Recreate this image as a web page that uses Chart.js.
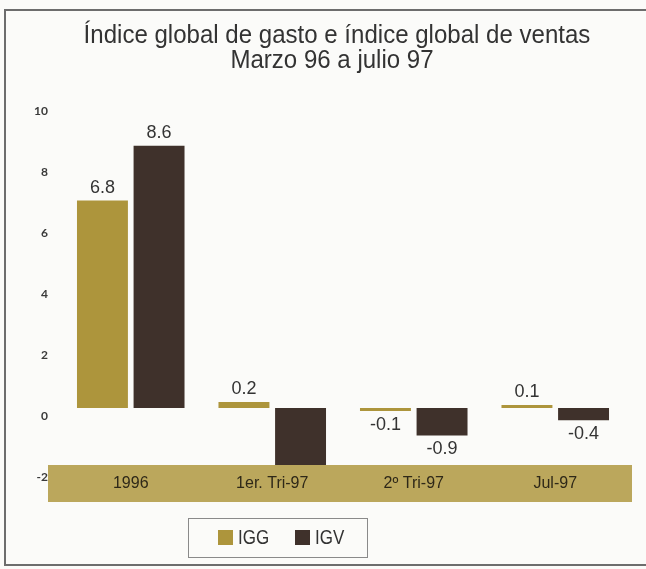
<!DOCTYPE html>
<html>
<head>
<meta charset="utf-8">
<script src="https://cdn.jsdelivr.net/npm/chart.js@4/dist/chart.umd.min.js"></script>
<style>
  html, body { margin: 0; padding: 0; background: #fbfbf9; }
  #wrap { width: 646px; height: 569px; position: relative; }
</style>
</head>
<body>
<div id="wrap"><canvas id="c" width="646" height="569"></canvas></div>
<script>
// datos
const categorias = ['1996', '1er. Tri-97', '2º Tri-97', 'Jul-97'];
const igg = [6.8, 0.2, -0.1, 0.1];
const igv = [8.6, -1.9, -0.9, -0.4];
const yTicks = [-2, 0, 2, 4, 6, 8, 10];

const ORO = '#ad953c';
const CAFE = '#3f312b';
const BANDA = '#bba75c';
const SANS = '"Liberation Sans", Arial, sans-serif';

// texto algo estrecho, como en el original
function textoEstrecho(c, txt, x, y, escala) {
    c.save();
    c.translate(x, y);
    c.scale(escala, 1);
    c.fillText(txt, 0, 0);
    c.restore();
}

// marco, título, banda de categorías y leyenda
const decoracion = {
    id: 'decoracion',
    beforeDraw(chart) {
        const c = chart.ctx;
        c.save();
        c.strokeStyle = '#6d6d6d';
        c.lineWidth = 2;
        c.beginPath();
        c.moveTo(646, 10); c.lineTo(5, 10); c.lineTo(5, 565); c.lineTo(646, 565);
        c.stroke();
        c.fillStyle = '#333';
        c.textAlign = 'center';
        c.textBaseline = 'middle';
        c.font = '26px ' + SANS;
        textoEstrecho(c, 'Índice global de gasto e índice global de ventas', 337, 36, 0.925);
        textoEstrecho(c, 'Marzo 96 a julio 97', 332, 61, 0.925);
        c.restore();
    },
    afterDatasetsDraw(chart) {
        const c = chart.ctx;
        const a = chart.chartArea;
        c.save();
        c.fillStyle = BANDA;
        c.fillRect(48, a.bottom - 4, 584, 37);
        // etiquetas de valor
        c.font = '18px ' + SANS;
        c.fillStyle = '#333';
        c.textAlign = 'center';
        c.textBaseline = 'middle';
        chart.data.datasets.forEach((ds, i) => {
            chart.getDatasetMeta(i).data.forEach((bar, j) => {
                const v = ds.data[j];
                const y = v >= 0 ? bar.y - 13 : bar.y + 14;
                if (y > a.bottom - 10) return; // queda tapada por la banda
                c.fillText(v.toFixed(1), bar.x, y);
            });
        });
        // leyenda
        c.strokeStyle = '#8a8a8a';
        c.lineWidth = 1;
        c.strokeRect(188.5, 518.5, 179, 39);
        const items = [[ORO, 'IGG', 218], [CAFE, 'IGV', 295]];
        c.font = '20px ' + SANS;
        c.textAlign = 'left';
        items.forEach(([col, txt, x]) => {
            c.fillStyle = col;
            c.fillRect(x, 530, 15, 15);
            c.fillStyle = '#333';
            textoEstrecho(c, txt, x + 20, 538, 0.85);
        });
        c.restore();
    }
};

new Chart(document.getElementById('c'), {
    type: 'bar',
    data: {
        labels: categorias,
        datasets: [
            { label: 'IGG', data: igg, backgroundColor: ORO, borderWidth: 0 },
            { label: 'IGV', data: igv, backgroundColor: CAFE, borderWidth: 0 }
        ]
    },
    options: {
        responsive: false,
        animation: false,
        layout: { padding: { top: 103, right: 20, left: 0, bottom: 0 } },
        categoryPercentage: 0.8,
        barPercentage: 0.9,
        plugins: { legend: { display: false }, tooltip: { enabled: false } },
        scales: {
            x: {
                grid: { display: false, drawTicks: false },
                border: { display: false },
                ticks: {
                    z: 1,
                    padding: 5,
                    color: '#2e2818',
                    font: { family: SANS, size: 16 }
                },
                afterFit(s) { s.height = 100; }
            },
            y: {
                min: -2,
                max: 10,
                grid: { display: false, drawTicks: false },
                border: { display: false },
                afterBuildTicks(s) { s.ticks = yTicks.map(v => ({ value: v })); },
                afterFit(s) { s.width = 60; },
                ticks: {
                    padding: 12,
                    labelOffset: 8,
                    color: '#3a3a3a',
                    font: { family: 'Lato', size: 12, weight: 'bold' }
                }
            }
        }
    },
    plugins: [decoracion]
});
</script>
</body>
</html>
